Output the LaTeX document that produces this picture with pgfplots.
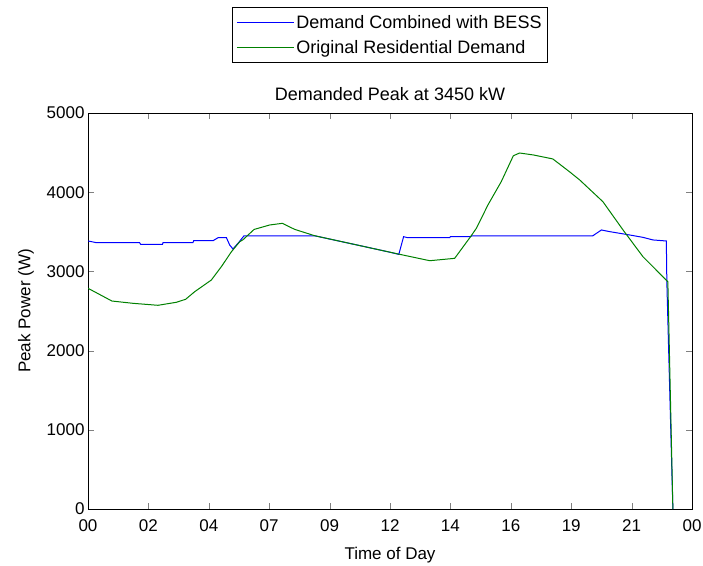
\documentclass[border=0pt]{standalone}
\usepackage{fontspec}
\setmainfont{Liberation Sans}
\usepackage{pgfplots}
\pgfplotsset{compat=1.18}
\pgfplotsset{
    longline/.style={legend image code/.code={\draw[##1] (0pt,0pt) -- (57pt,0pt);}},
}
\newcommand\ff{\fontsize{17}{20}\selectfont}
\newcommand\fb{\fontsize{18}{21}\selectfont}
\definecolor{mblue}{rgb}{0,0,1}
\definecolor{mgreen}{rgb}{0,0.5,0}
\begin{document}
\begin{tikzpicture}
\useasboundingbox (0,0) rectangle (703pt,565pt);
\begin{axis}[
    at={(88pt,56pt)}, anchor=south west,
    scale only axis, width=604pt, height=396pt,
    xmin=0, xmax=24, ymin=0, ymax=5000,
    xtick={0,2.4,4.8,7.2,9.6,12,14.4,16.8,19.2,21.6,24},
    xticklabels={00,02,04,07,09,12,14,16,19,21,00},
    ytick={0,1000,2000,3000,4000,5000},
    tick align=inside, xtick pos=both, ytick pos=both,
    major tick length=6pt,
    /pgf/number format/assume math mode=true,
    /pgf/number format/1000 sep={},
    tick label style={font=\ff},
    xticklabel style={yshift=-7pt},
    label style={font=\ff},
    xlabel shift=9pt,
    ylabel shift=6pt,
    title style={font=\fb, yshift=3pt},
    title={Demanded Peak at 3450 kW},
    xlabel={Time of Day},
    ylabel={Peak Power (W)},
    axis line style={line width=0.8pt},
    legend style={at={(0.5,1)}, anchor=south, yshift=50pt, font=\fb,
        line width=0.8pt, inner xsep=4pt, inner ysep=6pt,
        row sep=6pt},
    legend cell align=left,
    longline,
]
\addplot[mblue, line width=1pt] coordinates {
(0,3384) (0.33,3363) (2.05,3363) (2.09,3342) (2.96,3342) (2.98,3363)
(4.17,3363) (4.20,3388) (4.97,3388) (5.17,3426) (5.50,3426) (5.63,3333)
(5.76,3283) (6.00,3370) (6.20,3450) (9.00,3450) (10.0,3381) (11.0,3312)
(12.0,3242) (12.35,3215) (12.54,3438) (12.70,3426) (14.37,3426) (14.40,3438)
(15.20,3438) (15.25,3450) (20.06,3450) (20.40,3523) (20.73,3502) (21.52,3460)
(22.05,3430) (22.45,3397) (22.98,3384) (23.00,2870) (23.24,0)
};
\addlegendentry{Demand Combined with BESS}
\addplot[mgreen, line width=1pt] coordinates {
(0,2787) (0.95,2626) (1.79,2597) (2.78,2572) (3.51,2610) (3.88,2648)
(4.24,2744) (4.90,2891) (5.30,3060) (5.70,3249) (6.03,3375) (6.16,3400)
(6.60,3530) (7.22,3586) (7.72,3607) (8.21,3531) (9.00,3451) (12.38,3216)
(13.58,3135) (14.57,3165) (15.23,3451) (15.43,3544) (15.89,3838) (16.42,4133)
(16.90,4460) (17.15,4495) (17.70,4470) (18.47,4420) (19.13,4259) (19.54,4154)
(20.46,3880) (21.26,3523) (22.05,3186) (23.04,2870) (23.24,0)
};
\addlegendentry{Original Residential Demand}
\end{axis}
\end{tikzpicture}
\end{document}
